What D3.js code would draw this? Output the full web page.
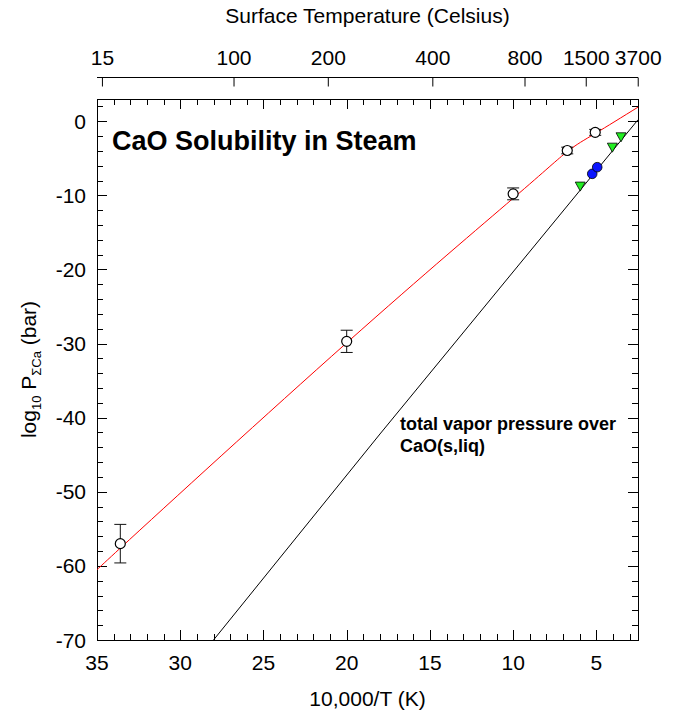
<!DOCTYPE html>
<html>
<head>
<meta charset="utf-8">
<script src="https://cdn.jsdelivr.net/npm/d3@7"></script>
<style>
  body { margin: 0; background: #fff; }
  svg { font-family: "Liberation Sans", Arial, sans-serif; }
</style>
</head>
<body>
<svg id="chart" width="692" height="717"></svg>
<script>
// axis ticks
var bottomTicks = [35, 30, 25, 20, 15, 10, 5];
var celsiusTicks = [15, 100, 200, 400, 800, 1500, 3700];
var yTicks = [0, -10, -20, -30, -40, -50, -60, -70];

// measured solubility (open circles with error bars)
var measuredX = [33.6, 20, 10, 6.75, 5.07];
var measuredY = [-57.0, -29.7, -9.8, -3.95, -1.5];
var measuredErr = [2.6, 1.5, 0.8, 0.45, 0.4];

// blue circles and green triangles
var blueX = [5.25, 4.95];
var blueY = [-7.1, -6.2];
var greenX = [5.97, 4.04, 3.52];
var greenY = [-8.75, -3.5, -2.1];

// red fit curve
var fitX = [35, 33.6, 20, 10, 6.75, 5.07, 2.5];
var fitY = [-60.7, -57.6, -29.9, -10.4, -4.1, -1.65, 1.9];

// total vapour pressure over CaO
var vaporX = [28, 18, 2.5];
var vaporY = [-70, -42.2, 0.2];

function drawChart() {
  var svg = d3.select("#chart");
  var plotLeft = 97, plotRight = 638, plotTop = 99, plotBottom = 640;
  var fontSize = 21;

  var x = d3.scaleLinear().domain([35, 2.5]).range([plotLeft, plotRight]);
  var y = d3.scaleLinear().domain([-70, 3]).range([plotBottom, plotTop]);

  function zip(xs, ys) {
    return xs.map(function(v, i) { return [v, ys[i]]; });
  }

  svg.append("clipPath").attr("id", "plot-clip")
    .append("rect")
      .attr("x", plotLeft).attr("y", plotTop)
      .attr("width", plotRight - plotLeft).attr("height", plotBottom - plotTop);

  // frame ticks (inward)
  var xMinor = d3.range(35, 2.4, -1);
  var yMinor = d3.range(-70, 3.1, 2);
  var frameTicks = svg.append("g").attr("stroke", "#000").attr("stroke-width", 1);
  xMinor.forEach(function(v) {
    var len = (v % 5 === 0) ? 10 : 6;
    var px = Math.round(x(v)) + 0.5;
    frameTicks.append("line").attr("x1", px).attr("x2", px)
      .attr("y1", plotBottom).attr("y2", plotBottom - len);
    frameTicks.append("line").attr("x1", px).attr("x2", px)
      .attr("y1", plotTop).attr("y2", plotTop + len);
  });
  yMinor.forEach(function(v) {
    var len = (v % 10 === 0) ? 10 : 6;
    var py = Math.round(y(v)) + 0.5;
    frameTicks.append("line").attr("x1", plotLeft).attr("x2", plotLeft + len)
      .attr("y1", py).attr("y2", py);
    frameTicks.append("line").attr("x1", plotRight).attr("x2", plotRight - len)
      .attr("y1", py).attr("y2", py);
  });

  svg.append("rect")
    .attr("x", plotLeft + 0.5).attr("y", plotTop + 0.5)
    .attr("width", plotRight - plotLeft).attr("height", plotBottom - plotTop)
    .attr("fill", "none").attr("stroke", "#000").attr("stroke-width", 1);

  // bottom tick labels
  svg.append("g").selectAll("text")
    .data(bottomTicks)
    .enter().append("text")
      .attr("x", function(d) { return x(d); })
      .attr("y", 670)
      .attr("text-anchor", "middle")
      .attr("font-size", fontSize)
      .text(function(d) { return d; });

  svg.append("text")
    .attr("x", (plotLeft + plotRight) / 2).attr("y", 706)
    .attr("text-anchor", "middle").attr("font-size", fontSize)
    .text("10,000/T (K)");

  // left tick labels
  svg.append("g").selectAll("text")
    .data(yTicks)
    .enter().append("text")
      .attr("x", 86)
      .attr("y", function(d) { return y(d) + 7.5; })
      .attr("text-anchor", "end")
      .attr("font-size", fontSize)
      .text(function(d) { return d; });

  var ylab = svg.append("text")
    .attr("transform", "translate(36," + ((plotTop + plotBottom) / 2) + ") rotate(-90)")
    .attr("text-anchor", "middle").attr("font-size", fontSize);
  ylab.append("tspan").text("log");
  ylab.append("tspan").attr("font-size", 13).attr("dy", 5).text("10");
  ylab.append("tspan").attr("dy", -5).text(" P");
  ylab.append("tspan").attr("font-size", 13).attr("dy", 5).text("ΣCa");
  ylab.append("tspan").attr("dy", -5).text(" (bar)");

  // top celsius axis, placed by 10000/(T+273.15)
  var celsiusAxis = d3.axisTop(x)
    .tickValues(celsiusTicks.map(function(c) { return 10000 / (c + 273.15); }))
    .tickFormat(function(d, i) { return celsiusTicks[i]; })
    .tickSizeInner(-9).tickSizeOuter(0).tickPadding(13);
  var topAxis = svg.append("g")
    .attr("transform", "translate(0,77.5)")
    .call(celsiusAxis);
  topAxis.select(".domain").attr("d", "M" + plotLeft + ",0H" + plotRight);
  topAxis.selectAll("text")
    .attr("font-size", fontSize)
    .attr("font-family", "Liberation Sans, Arial, sans-serif");

  svg.append("text")
    .attr("x", (plotLeft + plotRight) / 2).attr("y", 23)
    .attr("text-anchor", "middle").attr("font-size", fontSize)
    .text("Surface Temperature (Celsius)");

  // lines
  var plot = svg.append("g").attr("clip-path", "url(#plot-clip)");
  var line = d3.line()
    .x(function(d) { return x(d[0]); })
    .y(function(d) { return y(d[1]); });

  plot.append("path")
    .datum(zip(vaporX, vaporY))
    .attr("d", line)
    .attr("fill", "none").attr("stroke", "#000").attr("stroke-width", 1);

  plot.append("path")
    .datum(zip(fitX, fitY))
    .attr("d", line.curve(d3.curveNatural))
    .attr("fill", "none").attr("stroke", "#ff0000").attr("stroke-width", 1);

  // error bars
  var errData = measuredX.map(function(v, i) {
    return { x: v, y: measuredY[i], e: measuredErr[i] };
  });
  var err = svg.append("g").attr("stroke", "#111").attr("stroke-width", 1);
  errData.forEach(function(d) {
    var px = x(d.x);
    err.append("line").attr("x1", px).attr("x2", px)
      .attr("y1", y(d.y + d.e)).attr("y2", y(d.y - d.e));
    err.append("line").attr("x1", px - 6).attr("x2", px + 6)
      .attr("y1", y(d.y + d.e)).attr("y2", y(d.y + d.e));
    err.append("line").attr("x1", px - 6).attr("x2", px + 6)
      .attr("y1", y(d.y - d.e)).attr("y2", y(d.y - d.e));
  });

  svg.append("g").selectAll("circle")
    .data(errData)
    .enter().append("circle")
      .attr("cx", function(d) { return x(d.x); })
      .attr("cy", function(d) { return y(d.y); })
      .attr("r", 5)
      .attr("fill", "#fff").attr("stroke", "#000").attr("stroke-width", 1.2);

  svg.append("g").selectAll("circle")
    .data(zip(blueX, blueY))
    .enter().append("circle")
      .attr("cx", function(d) { return x(d[0]); })
      .attr("cy", function(d) { return y(d[1]); })
      .attr("r", 4.8)
      .attr("fill", "#0a14ff").attr("stroke", "#000").attr("stroke-width", 0.8);

  svg.append("g").selectAll("path")
    .data(zip(greenX, greenY))
    .enter().append("path")
      .attr("transform", function(d) { return "translate(" + x(d[0]) + "," + y(d[1]) + ")"; })
      .attr("d", "M-5,-4L5,-4L0,5Z")
      .attr("fill", "#22ee22").attr("stroke", "#000").attr("stroke-width", 0.8);

  // annotations
  svg.append("text")
    .attr("x", 112).attr("y", 150)
    .attr("font-size", 27).attr("font-weight", "bold")
    .text("CaO Solubility in Steam");

  var note = svg.append("text")
    .attr("font-size", 18).attr("font-weight", "bold");
  note.append("tspan").attr("x", 400).attr("y", 430).text("total vapor pressure over");
  note.append("tspan").attr("x", 400).attr("y", 452).text("CaO(s,liq)");
}
drawChart();
</script>
</body>
</html>
